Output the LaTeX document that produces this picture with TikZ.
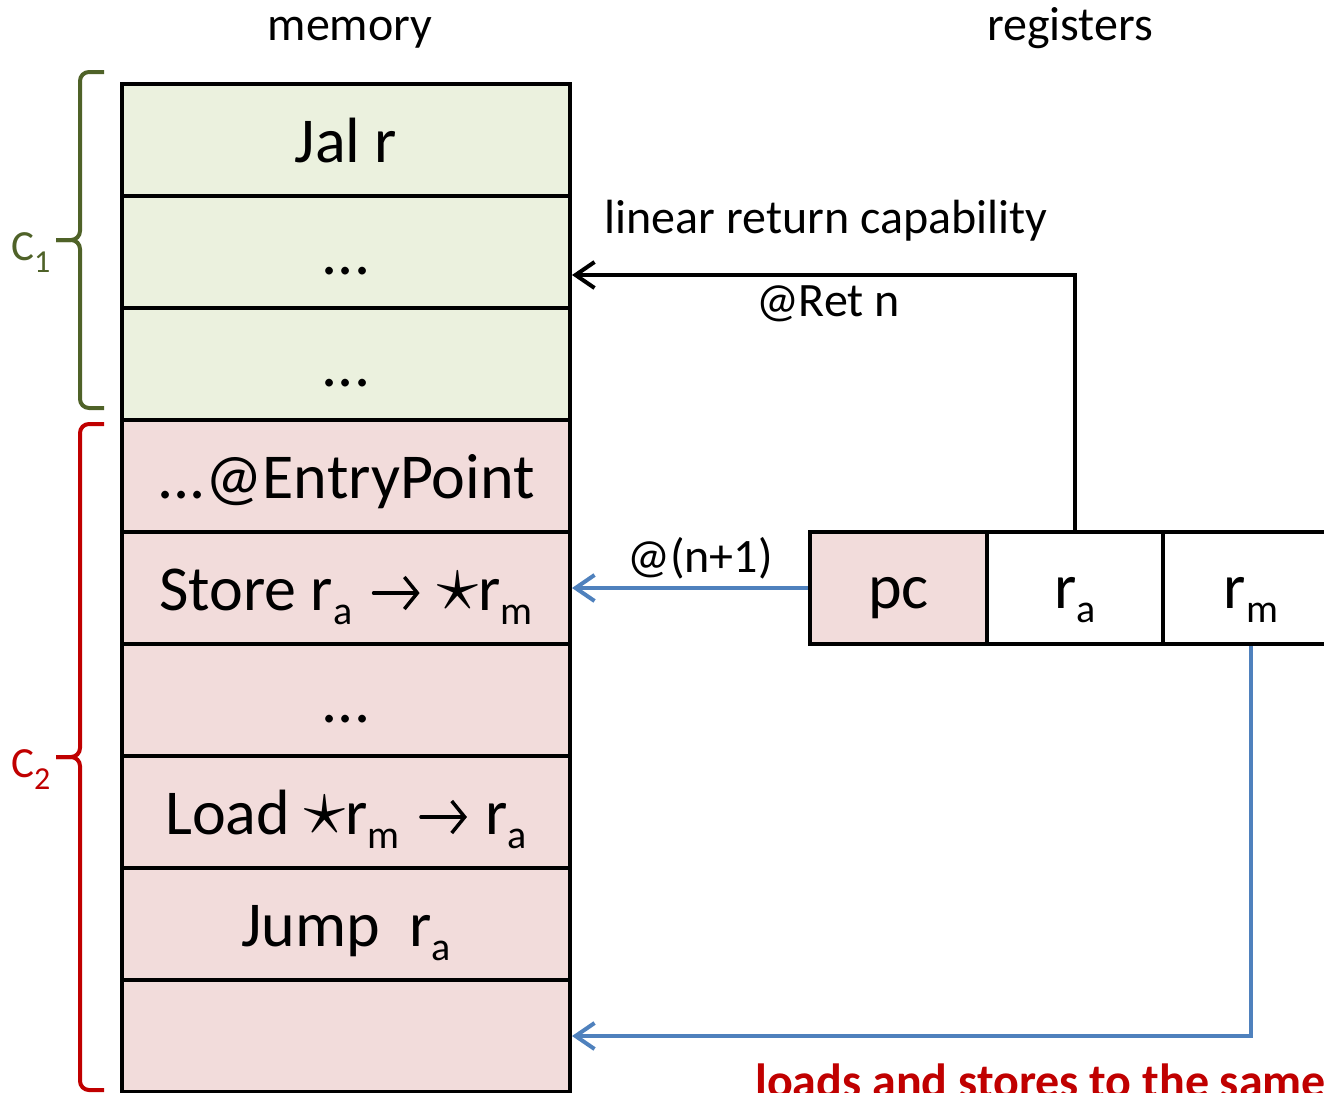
\RequirePackage{fix-cm}
\documentclass[tikz,border=0pt]{standalone}
\usepackage{fontspec}
\usepackage{graphicx}
\setmainfont{Carlito}
\usetikzlibrary{arrows.meta}
\definecolor{cgreen}{HTML}{EBF1DE}
\definecolor{cpink}{HTML}{F2DCDB}
\definecolor{bgreen}{HTML}{4F6228}
\definecolor{bred}{HTML}{C00000}
\definecolor{ablue}{HTML}{4F81BD}
\newcommand{\sbs}[1]{\raisebox{-14pt}{\fontsize{40}{44}\selectfont #1}}
\newcommand{\sbl}[1]{\raisebox{-12pt}{\fontsize{32}{36}\selectfont #1}}
\newcommand{\myarr}{\hspace{5pt}\tikz[baseline=0pt]{\draw[line width=3.5pt, line cap=round, -{Straight Barb[length=13pt,width=32pt,line width=3.5pt]}] (0pt,17pt) -- (46pt,17pt);}\hspace{2pt}}
\newcommand{\mystar}{\scalebox{1.3}{$\star$}}
\tikzset{
  memrow/.style={draw=black, line width=4pt, minimum width=448pt, minimum height=112pt, inner sep=0pt, text height=50pt, text depth=6pt, font=\fontsize{64}{70}\selectfont, anchor=north west},
  greenrow/.style={memrow, fill=cgreen},
  pinkrow/.style={memrow, fill=cpink},
  reg/.style={draw=black, line width=4pt, minimum width=176pt, minimum height=112pt, inner sep=0pt, text height=46pt, text depth=6pt, font=\fontsize{64}{70}\selectfont, anchor=north west},
  lbl/.style={font=\fontsize{48}{52}\selectfont, inner sep=0pt, anchor=base},
  clbl/.style={font=\fontsize{43}{48}\selectfont, inner sep=0pt, anchor=base west},
  tip/.style={-{Straight Barb[length=19pt,width=26pt,line width=4pt]}},
  blk/.style={draw=black, line width=4pt, tip},
  blu/.style={draw=ablue, line width=4pt, tip},
  brc/.style={line width=4pt, rounded corners=9pt},
}
\begin{document}
\begin{tikzpicture}[x=1pt,y=-1pt]
\useasboundingbox (0,0) rectangle (1324,1092);
\clip (0,0) rectangle (1324,1092);

\node[lbl] (memlbl) at (350,40) {memory};
\node[lbl] (reglbl) at (1070,40) {registers};

\node[greenrow] (m1) at (120,82) {Jal r};
\node[greenrow] (m2) at (120,194) {...};
\node[greenrow] (m3) at (120,306) {...};
\node[pinkrow] (m4) at (120,418) {...@EntryPoint};
\node[pinkrow] (m5) at (120,530) {Store r\sbs{a} \myarr{} \mystar{}r\sbs{m}};
\node[pinkrow] (m6) at (120,642) {...};
\node[pinkrow] (m7) at (120,754) {Load \mystar{}r\sbs{m} \myarr{} r\sbs{a}};
\node[pinkrow] (m8) at (120,866) {Jump\ \ r\sbs{a}};
\node[pinkrow] (m9) at (120,978) {};

\node[reg, fill=cpink, minimum width=177pt] (pc) at (808,530) {pc};
\node[reg] (ra) at (985,530) {r\sbs{a}};
\node[reg] (rm) at (1161,530) {r\sbs{m}};

\node[lbl] (lrc) at (826,233) {linear return capability};
\node[lbl] (ret) at (828,316) {@Ret n};
\node[lbl] (np1) at (700,572) {@(n+1)};

\draw[blk] (ra.north) |- ([yshift=-23pt]m2.east);
\draw[blu] (pc.west) -- (m5.east);
\draw[blu] (rm.south) |- (m9.east);

\draw[brc, bgreen] (104,72) -- (80,72) -- (80,240) -- (56,240);
\draw[brc, bgreen] (56,240) -- (80,240) -- (80,408) -- (104,408);
\node[clbl, text=bgreen] (c1) at (11,260) {C\sbl{1}};

\draw[brc, bred] (104,424) -- (80,424) -- (80,757) -- (56,757);
\draw[brc, bred] (56,757) -- (80,757) -- (80,1090) -- (104,1090);
\node[clbl, text=bred] (c2) at (11,777) {C\sbl{2}};

\node[lbl, anchor=base west, text=bred, font=\fontsize{48}{52}\selectfont\bfseries] (note) at (755,1097) {loads and stores to the same};
\end{tikzpicture}
\end{document}
